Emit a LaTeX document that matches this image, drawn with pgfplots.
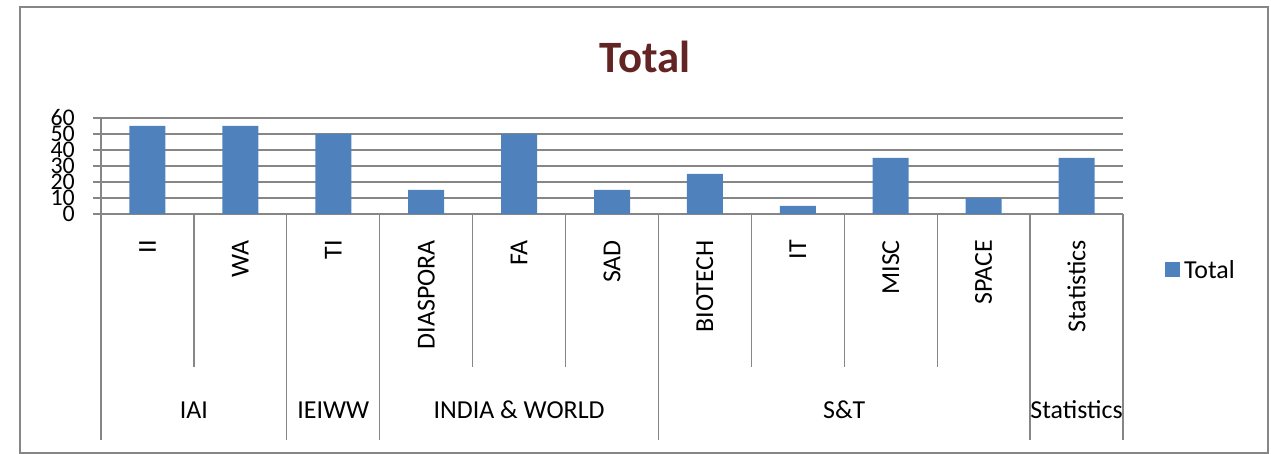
\documentclass[border=0pt]{standalone}
\usepackage{pgfplots}
\pgfplotsset{compat=1.18}
\usepackage{fontspec}
\setmainfont{Carlito}
\definecolor{barblue}{HTML}{4F81BD}
\definecolor{gridgray}{HTML}{868686}
\definecolor{titlered}{HTML}{632523}
\newcommand{\lbl}{\fontsize{26}{26}\selectfont}
\begin{document}
\begin{tikzpicture}[x=1bp,y=1bp]
\useasboundingbox (0,0) rectangle (1271,454);
\draw[gridgray, line width=2bp] (20,1) rectangle (1268,447);
\node[font=\fontsize{45}{45}\selectfont\bfseries, text=titlered] at (645,397) {Total};
\begin{axis}[
  at={(101bp,240bp)}, anchor=south west,
  scale only axis, width=1022bp, height=96bp,
  xmin=-0.5, xmax=10.5, ymin=0, ymax=60,
  clip=false,
  axis lines*=left,
  axis line style={gridgray, line width=1.3bp},
  ytick={0,10,...,60},
  ymajorgrids,
  grid style={gridgray, line width=1.3bp},
  ytick style={gridgray, line width=1.3bp},
  ytick align=outside,
  major tick length=8bp,
  yticklabel style={font=\fontsize{24}{24}\selectfont, anchor=east, inner sep=0pt},
  /pgf/number format/assume math mode=true,
  yticklabel shift=18bp,
  xtick={0,...,10},
  xtick style={draw=none},
  xticklabels={II,WA,TI,DIASPORA,FA,SAD,BIOTECH,IT,MISC,SPACE,Statistics},
  xticklabel style={font=\lbl, rotate=90, anchor=east, inner sep=0pt},
  xticklabel shift=26bp,
  legend style={at={(axis description cs:1.041,-0.583)}, anchor=west, draw=none, font=\lbl, inner sep=0pt,
    nodes={inner xsep=4bp}},
  legend image code/.code={\fill[barblue] (0bp,-7.5bp) rectangle (15bp,7.5bp);},
]
\addplot[ybar, bar width=36bp, fill=barblue, draw=none] coordinates {
  (0,55) (1,55) (2,50) (3,15) (4,50) (5,15) (6,25) (7,5) (8,35) (9,10) (10,35)
};
\addlegendentry{Total}
\pgfplotsinvokeforeach{0.5,3.5,4.5,6.5,7.5,8.5}{
  \draw[gridgray, line width=1.3bp] (axis cs:#1,0) -- ++(0bp,-153bp);
}
\pgfplotsinvokeforeach{-0.5,1.5,2.5,5.5,9.5,10.5}{
  \draw[gridgray, line width=1.3bp] (axis cs:#1,0) -- ++(0bp,-226bp);
}
\node[font=\lbl] at (axis cs:0.5,0) [yshift=-196bp] {IAI};
\node[font=\lbl] at (axis cs:2,0) [yshift=-196bp] {IEIWW};
\node[font=\lbl] at (axis cs:4,0) [yshift=-196bp] {INDIA \& WORLD};
\node[font=\lbl] at (axis cs:7.5,0) [yshift=-196bp] {S\&T};
\node[font=\lbl] at (axis cs:10,0) [yshift=-196bp] {Statistics};
\end{axis}
\end{tikzpicture}
\end{document}
